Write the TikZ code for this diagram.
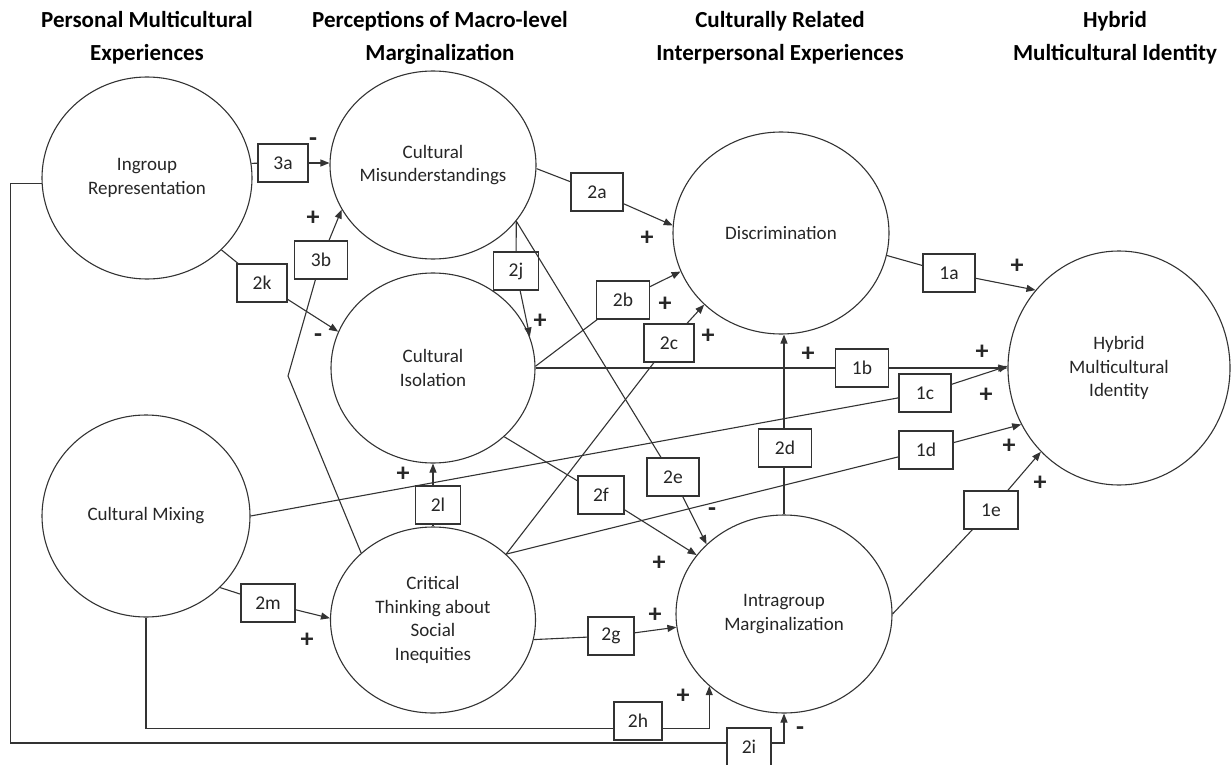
\documentclass[tikz,border=0pt]{standalone}
\usepackage{fontspec}
\setmainfont{Carlito}
\usetikzlibrary{shapes.geometric,arrows.meta}
\begin{document}
\begin{tikzpicture}[x=1pt,y=-1pt,
  ln/.style={line width=1.1pt, draw=black!80},
  arr/.style={ln, -{Triangle[length=9pt,width=7pt]}},
  circ/.style={ellipse, draw=black!80, line width=1.1pt, inner sep=0pt},
  box/.style={draw=black!80, line width=1.1pt, fill=white, minimum width=50pt, minimum height=38pt, inner sep=0pt, font=\fontsize{19.5}{23}\selectfont, text=black!85},
  sg/.style={font=\fontsize{26}{26}\selectfont\bfseries, text=black!85, inner sep=0pt},
  hd/.style={font=\fontsize{23}{33}\selectfont\bfseries, align=center, inner sep=0pt},
  lbl/.style={font=\fontsize{19}{23.5}\selectfont, align=center, text=black!85, inner sep=0pt}
]
\useasboundingbox (0,0) rectangle (1231,765);
% headers
\node[hd] (h1) at (147,38) {Personal Multicultural\\Experiences};
\node[hd] (h2) at (440,38) {Perceptions of Macro-level\\Marginalization};
\node[hd] (h3) at (780,38) {Culturally Related\\Interpersonal Experiences};
\node[hd] (h4) at (1115,38) {Hybrid\\Multicultural Identity};
% constructs
\node[circ, minimum width=210pt, minimum height=202pt, label={[lbl]center:Ingroup\\Representation}] (ir) at (147,178) {};
\node[circ, minimum width=206pt, minimum height=188pt, label={[lbl]center:Cultural\\Misunderstandings}] (cm) at (433,165) {};
\node[circ, minimum width=204pt, minimum height=190pt, label={[lbl]center:Cultural\\Isolation}] (ci) at (433,368) {};
\node[circ, minimum width=208pt, minimum height=202pt, label={[lbl]center:Cultural Mixing}] (cmx) at (146,516) {};
\node[circ, minimum width=205pt, minimum height=186pt, label={[lbl]center:Critical\\Thinking about\\Social\\Inequities}] (ct) at (433,620) {};
\node[circ, minimum width=216pt, minimum height=202pt, label={[lbl]center:Discrimination}] (disc) at (781,233) {};
\node[circ, minimum width=216pt, minimum height=198pt, label={[lbl]center:Intragroup\\Marginalization}] (im) at (784,614) {};
\node[circ, minimum width=222pt, minimum height=234pt, label={[lbl]center:Hybrid\\Multicultural\\Identity}] (hmi) at (1119,368) {};
% path boxes
\node[box] (b3a) at (283,163) {3a};
\node[box, minimum width=53pt] (b3b) at (321,260) {3b};
\node[box] (b2k) at (262,283) {2k};
\node[box, minimum width=52pt] (b2a) at (597,192) {2a};
\node[box, minimum width=45pt] (b2j) at (516,271) {2j};
\node[box, minimum width=53pt] (b2b) at (623,300) {2b};
\node[box] (b2c) at (669,343) {2c};
\node[box, minimum width=52pt] (b1a) at (949,273) {1a};
\node[box, minimum width=53pt] (b1b) at (862,368) {1b};
\node[box, minimum width=52pt] (b1c) at (925,393) {1c};
\node[box, minimum width=54pt] (b1d) at (926,450) {1d};
\node[box, minimum width=54pt] (b1e) at (991,510) {1e};
\node[box, minimum width=53pt] (b2d) at (785,448) {2d};
\node[box, minimum width=52pt] (b2e) at (673,477) {2e};
\node[box, minimum width=46pt] (b2f) at (601,495) {2f};
\node[box, minimum width=45pt] (b2l) at (438,505) {2l};
\node[box, minimum width=46pt] (b2g) at (611,636) {2g};
\node[box, minimum width=54pt] (b2m) at (268,603) {2m};
\node[box, minimum width=48pt] (b2h) at (638,721) {2h};
\node[box, minimum width=44pt] (b2i) at (749,747) {2i};
% connectors
\draw[ln] (ir.8) -- (b3a);
\draw[arr] (b3a.east) -- (b3a.east -| cm.west);
\draw[ln] (ir.-44) -- (b2k);
\draw[arr] (b2k) -- (ci.159);
\coordinate (bend) at (288,376);
\draw[ln] (ct.137) -- (bend) -- (b3b);
\draw[arr] (b3b) -- (cm.206);
\draw[ln] (cm.-2) -- (b2a);
\draw[arr] (b2a) -- (disc.176);
\draw[ln] (cm.-34) -- (b2j);
\draw[arr] (b2j) -- (ci.18);
\draw[ln] (cm.-34) -- (b2e);
\draw[arr] (b2e) -- (im.138);
\draw[ln] (ci.1) -- (b2b);
\draw[arr] (b2b) -- (disc.201);
\draw[ln] (ci.east) -- (b1b);
\draw[arr] (b1b) -- (hmi.west);
\draw[ln] (ct.42) -- (b2c);
\draw[arr] (b2c) -- (disc.223);
\draw[ln] (ct.42) -- (b1d);
\draw[arr] (b1d) -- (hmi.210);
\draw[ln] (cmx.east) -- (b1c);
\draw[arr] (b1c) -- (hmi.179);
\draw[ln] (ct.north) -- (ct.north |- b2l.south);
\draw[arr] (ct.north |- b2l.north) -- (ci.south);
\draw[ln] (ci.-44) -- (b2f);
\draw[arr] (b2f) -- (im.146);
\draw[ln] (ct.-11) -- (b2g);
\draw[arr] (b2g) -- (im.187);
\draw[ln] (im.north) -- (im.north |- b2d.south);
\draw[arr] (im.north |- b2d.north) -- (im.north |- disc.south);
\draw[ln] (disc.-12) -- (b1a);
\draw[arr] (b1a) -- (hmi.137);
\draw[ln] (im.east) -- (b1e);
\draw[arr] (b1e) -- (hmi.227);
\draw[ln] (cmx.-44) -- (b2m);
\draw[arr] (b2m) -- (ct.179);
\draw[ln] (cmx.south) |- ([yshift=-7.5pt]b2h.west);
\draw[arr] ([yshift=-7.5pt]b2h.east) -| (im.224);
\draw[ln] (ir.183) -- ++(-31,0) |- ([yshift=4pt]b2i.west);
\draw[arr] ([yshift=4pt]b2i.east) -| (im.south);
% signs
\node[sg] (s3a) at (313,142) {-};
\node[sg] (s2k) at (318,338) {-};
\node[sg] (s3b) at (313,218) {+};
\node[sg] (s2a) at (647,238) {+};
\node[sg] (s2j) at (540,321) {+};
\node[sg] (s2b) at (665,304) {+};
\node[sg] (s2c) at (708,336) {+};
\node[sg] (s2d) at (808,354) {+};
\node[sg] (s1a) at (1017,266) {+};
\node[sg] (s1b) at (982,352) {+};
\node[sg] (s1c) at (986,395) {+};
\node[sg] (s1d) at (1009,446) {+};
\node[sg] (s1e) at (1040,483) {+};
\node[sg] (s2l) at (403,474) {+};
\node[sg] (s2e) at (712,512) {-};
\node[sg] (s2f) at (659,563) {+};
\node[sg] (s2g) at (655,615) {+};
\node[sg] (s2m) at (307,640) {+};
\node[sg] (s2h) at (683,696) {+};
\node[sg] (s2i) at (800,731) {-};
\end{tikzpicture}
\end{document}
